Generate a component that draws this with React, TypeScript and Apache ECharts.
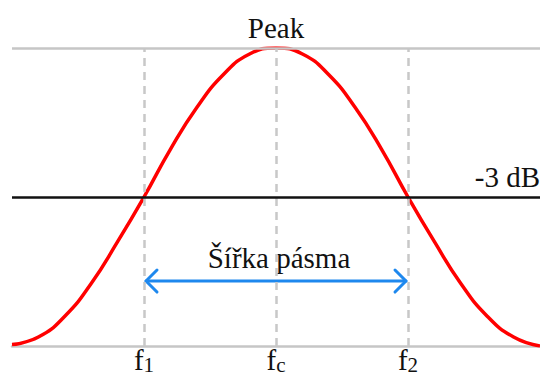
import React, { useEffect, useRef } from "react";
import * as echarts from "echarts";

// Normalised frequency axis: f1, fc and f2 sit at these positions
const freqTicks = [0.5, 1, 1.5];
const freqLabels = ["{f|f}{s|1}", "{f|f}{s|c}", "{f|f}{s|2}"];

// Response curve (normalised amplitude)
const curveX = [0, 0.1, 0.2, 0.3, 0.4, 0.5, 0.6, 0.7, 0.8, 0.9, 1, 1.1, 1.2, 1.3, 1.4, 1.5, 1.6, 1.7, 1.8, 1.9, 2];
const curveY = [0.005, 0.03, 0.1, 0.21, 0.35, 0.5, 0.66, 0.8, 0.91, 0.98, 1, 0.98, 0.91, 0.8, 0.66, 0.5, 0.35, 0.21, 0.1, 0.03, 0];

// Reference levels
const peakLevel = 1;
const halfPowerLevel = 0.5;
const peakText = "Peak";
const halfPowerText = "-3 dB";

// Bandwidth arrow: from f1 to f2 at this height
const bandwidthArrow = [[0.5, 1.5, 0.218]];
const bandwidthText = "Šířka pásma";

const SERIF = "Liberation Serif";

export default function App() {
  const ref = useRef<HTMLDivElement>(null);

  useEffect(() => {
    if (!ref.current) return;
    const chart = echarts.init(ref.current, null, { renderer: "svg" });

    chart.setOption({
      animation: false,
      backgroundColor: "#ffffff",
      textStyle: { fontFamily: SERIF },
      grid: { left: 12, right: 0, top: 48, bottom: 28, outerBoundsMode: "none", containLabel: false },
      xAxis: {
        type: "value",
        min: 0,
        max: 2,
        interval: 0.5,
        axisLine: { show: true, lineStyle: { color: "#c6c6c6", width: 2.5 } },
        axisTick: { show: false },
        splitLine: { show: false },
        axisLabel: {
          margin: -1,
          color: "#111",
          fontFamily: SERIF,
          formatter: (v: number) => {
            const i = freqTicks.findIndex((t) => Math.abs(t - v) < 1e-6);
            return i >= 0 ? freqLabels[i] : "";
          },
          rich: {
            f: { fontFamily: SERIF, fontSize: 29, lineHeight: 30, color: "#111", verticalAlign: "top" },
            s: { fontFamily: SERIF, fontSize: 21, lineHeight: 21, color: "#111", verticalAlign: "bottom", padding: [12, 0, 0, 0] },
          },
        },
      },
      yAxis: {
        type: "value",
        min: 0,
        max: 1,
        show: false,
        splitLine: { show: false },
      },
      series: [
        {
          // guide lines: dashed frequency markers and reference levels
          type: "line",
          data: [],
          z: 1,
          silent: true,
          markLine: {
            silent: true,
            symbol: ["none", "none"],
            animation: false,
            data: [
              ...freqTicks.map((f) => ({
                xAxis: f,
                lineStyle: { color: "#c8c8c8", width: 2.5, type: [8, 6] },
                label: { show: false },
              })),
              {
                yAxis: peakLevel,
                lineStyle: { color: "#c6c6c6", width: 2.5, type: "solid" },
                label: {
                  show: true,
                  formatter: peakText,
                  position: "insideMiddleTop",
                  distance: 6,
                  fontFamily: SERIF,
                  fontSize: 29,
                  color: "#111",
                },
              },
              {
                yAxis: halfPowerLevel,
                lineStyle: { color: "#111", width: 2.5, type: "solid" },
                label: {
                  show: true,
                  formatter: halfPowerText,
                  position: "insideEndTop",
                  distance: [0, 6],
                  fontFamily: SERIF,
                  fontSize: 29,
                  color: "#111",
                },
              },
            ],
          },
        },
        {
          type: "line",
          z: 3,
          data: curveX.map((x, i) => [x, curveY[i]]),
          smooth: true,
          showSymbol: false,
          lineStyle: { color: "#ff0000", width: 3.5 },
        },
        {
          type: "custom",
          z: 4,
          coordinateSystem: "cartesian2d",
          encode: { x: [0, 1], y: 2 },
          data: bandwidthArrow,
          renderItem: (_params: any, api: any) => {
            const a = api.coord([api.value(0), api.value(2)]);
            const b = api.coord([api.value(1), api.value(2)]);
            const x1 = a[0] + 2;
            const x2 = b[0] - 2;
            const y = a[1];
            const stroke = { stroke: "#1e88ee", lineWidth: 3, fill: "none", lineCap: "round", lineJoin: "round" };
            return {
              type: "group",
              children: [
                { type: "line", shape: { x1, y1: y, x2, y2: y }, style: stroke },
                { type: "polyline", shape: { points: [[x1 + 11, y - 11], [x1, y], [x1 + 11, y + 11]] }, style: stroke },
                { type: "polyline", shape: { points: [[x2 - 11, y - 11], [x2, y], [x2 - 11, y + 11]] }, style: stroke },
                {
                  type: "text",
                  style: {
                    text: bandwidthText,
                    x: (x1 + x2) / 2 + 3,
                    y: y - 9,
                    align: "center",
                    verticalAlign: "bottom",
                    fontFamily: SERIF,
                    fontSize: 29,
                    fill: "#111",
                  },
                },
              ],
            };
          },
        },
      ],
    });

    return () => chart.dispose();
  }, []);

  return (
    <div
      ref={ref}
      style={{ position: "fixed", left: 0, top: 0, width: 540, height: 374 }}
    />
  );
}
